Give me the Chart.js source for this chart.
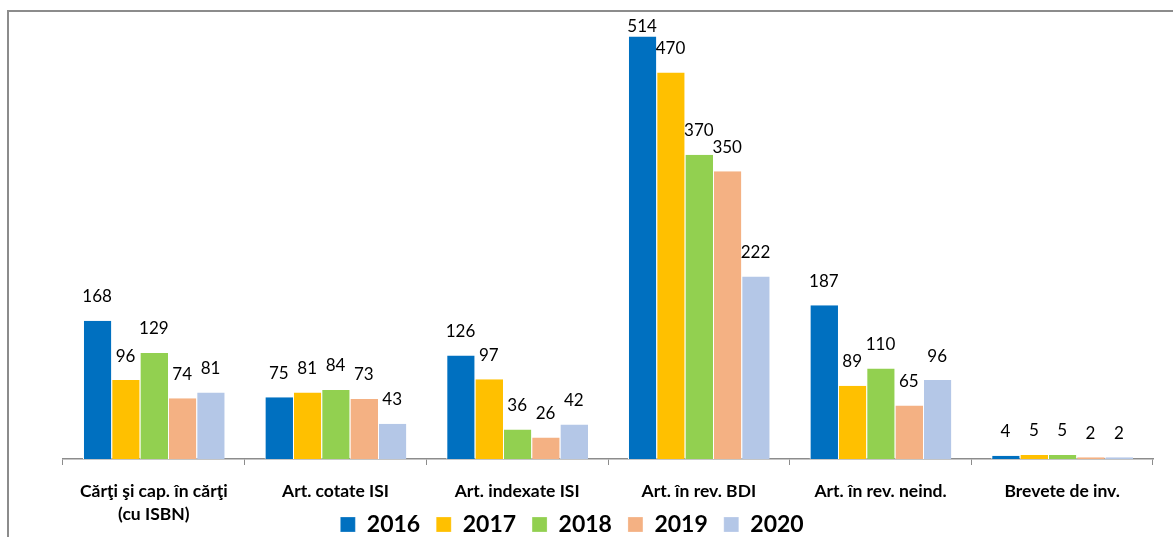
<!DOCTYPE html>
<html>
<head>
<meta charset="utf-8">
<script src="https://cdn.jsdelivr.net/npm/chart.js@4.4.1/dist/chart.umd.min.js"></script>
<style>
  html, body { margin: 0; padding: 0; background: #fff; }
  #wrap { position: relative; width: 1173px; height: 537px; overflow: hidden; }
  #frame { position: absolute; left: 7px; top: 10px; width: 1200px; height: 600px;
           border-left: 2px solid #8c8c8c; border-top: 2px solid #8c8c8c; }
  canvas { position: absolute; left: 0; top: 0; }
</style>
</head>
<body>
<div id="wrap">
  <div id="frame"></div>
  <canvas id="chart" width="1173" height="537"></canvas>
</div>
<script>
// --- DATE ---
const categories = [
  ["Cărţi şi cap. în cărţi", "(cu ISBN)"],
  "Art. cotate ISI",
  "Art. indexate ISI",
  "Art. în rev. BDI",
  "Art. în rev. neind.",
  "Brevete de inv."
];
const years = ["2016", "2017", "2018", "2019", "2020"];
const values2016 = [168, 75, 126, 514, 187, 4];
const values2017 = [96, 81, 97, 470, 89, 5];
const values2018 = [129, 84, 36, 370, 110, 5];
const values2019 = [74, 73, 26, 350, 65, 2];
const values2020 = [81, 43, 42, 222, 96, 2];
const colors = ["#0070C0", "#FFC000", "#92D050", "#F4B183", "#B4C7E7"];

const allValues = [values2016, values2017, values2018, values2019, values2020];

// eticheta valorii deasupra fiecărei bare
const valueLabels = {
  id: "valueLabels",
  afterDatasetsDraw(chart) {
    const ctx = chart.ctx;
    ctx.save();
    ctx.font = "17px Lato, 'Open Sans', sans-serif";
    ctx.fillStyle = "#000";
    ctx.textAlign = "center";
    ctx.textBaseline = "middle";
    chart.data.datasets.forEach((ds, i) => {
      chart.getDatasetMeta(i).data.forEach((bar, j) => {
        const y = Math.max(bar.y - 24, 27);
        ctx.fillText(String(ds.data[j]), bar.x, y);
      });
    });
    ctx.restore();
  }
};

// legenda suprapusa peste zona axei x, un pic la stanga, ca in original
const moveLegend = {
  id: "moveLegend",
  afterLayout(chart) {
    const lg = chart.legend;
    lg.top = 497; lg.bottom = 545;
    lg.left -= 36; lg.right -= 36;
  }
};

new Chart(document.getElementById("chart"), {
  type: "bar",
  data: {
    labels: categories,
    datasets: years.map((y, i) => ({
      label: y,
      data: allValues[i],
      backgroundColor: colors[i],
      borderColor: "#ffffff",
      borderWidth: { left: 1, right: 0, top: 0, bottom: 0 },
      barPercentage: 1,
      categoryPercentage: 0.78
    }))
  },
  options: {
    responsive: false,
    animation: false,
    layout: { padding: { left: 63, right: 20, top: 15, bottom: 0 } },
    scales: {
      x: {
        grid: { offset: true, drawOnChartArea: false, drawTicks: true, tickLength: 6, color: "#8c8c8c" },
        border: { color: "#8c8c8c", width: 1.5 },
        ticks: {
          color: "#000",
          padding: 15,
          font: { family: "Lato, 'Open Sans', sans-serif", size: 17.5, weight: "bold", lineHeight: 1.3 }
        },
        afterFit(scale) { scale.height = 76; }
      },
      y: { display: false, min: 0, max: 540 }
    },
    plugins: {
      legend: {
        position: "bottom",
        maxHeight: 2,
        labels: {
          color: "#000",
          boxWidth: 15,
          boxHeight: 15,
          padding: 16,
          font: { family: "Lato, 'Open Sans', sans-serif", size: 23, weight: "bold" }
        }
      },
      tooltip: { enabled: false }
    }
  },
  plugins: [valueLabels, moveLegend]
});
</script>
</body>
</html>
